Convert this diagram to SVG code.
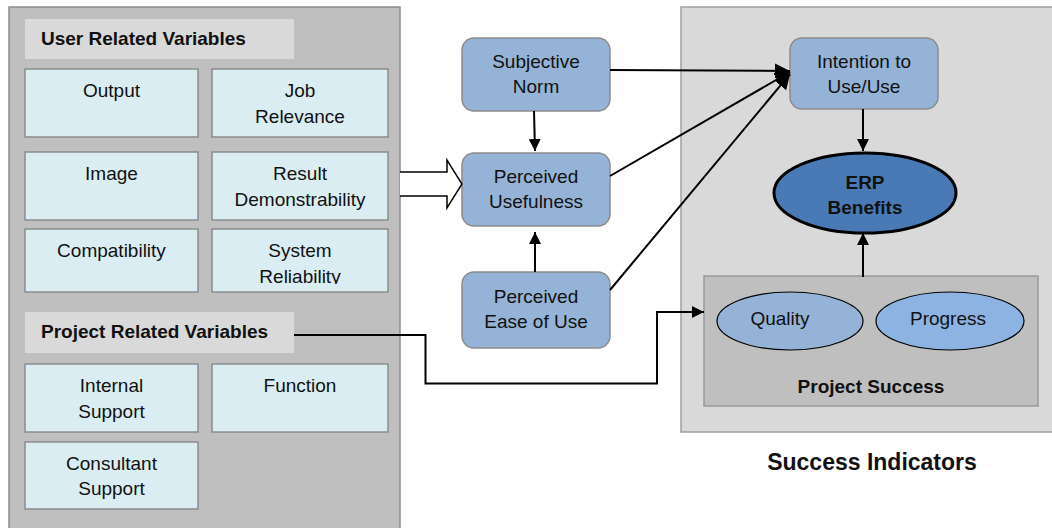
<svg xmlns="http://www.w3.org/2000/svg" width="1052" height="528" viewBox="0 0 1052 528">
<style>
text{font-family:"Liberation Sans",Arial,sans-serif;font-size:19px;fill:#111;text-anchor:middle}
.b{font-weight:bold}
.hdr{text-anchor:start}
.panel{fill:#bfbfbf;stroke:#8c8c8c;stroke-width:1.5}
.panel2{fill:#d9d9d9;stroke:#a0a0a0;stroke-width:1.5}
.head{fill:#d9d9d9}
.var{fill:#daedf3;stroke:#8c8c8c;stroke-width:1.5}
.tam{fill:#95b3d7;stroke:#8c8c8c;stroke-width:1.5}
.ell{stroke:#000;stroke-width:1.2}
.ln{fill:none;stroke:#000;stroke-width:2}
</style>
<defs>
<marker id="ah" markerWidth="12" markerHeight="12" viewBox="0 0 12 12" refX="12" refY="6" orient="auto" markerUnits="userSpaceOnUse">
<path d="M0,0 L12,6 L0,12 Z" fill="#000"/>
</marker>
<marker id="ah2" markerWidth="15" markerHeight="15" viewBox="0 0 15 15" refX="15" refY="7.5" orient="auto" markerUnits="userSpaceOnUse">
<path d="M0,0 L15,7.5 L0,15 Z" fill="#000"/>
</marker>
<clipPath id="clipRel"><rect x="212" y="229" width="176" height="55"/></clipPath>
</defs>

<g id="user-panel">
<rect class="panel" x="9" y="7" width="391" height="530"/>
</g>
<g id="success-panel">
<rect class="panel2" x="681" y="7" width="380" height="425"/>
<text class="b" x="872" y="470" style="font-size:23px">Success Indicators</text>
</g>

<g id="user-header">
<rect class="head" x="25" y="19" width="269" height="40"/>
<text class="b hdr" x="41" y="45">User Related Variables</text>
</g>
<g id="output"><rect class="var" x="25" y="69" width="173" height="68"/><text x="111.5" y="97">Output</text></g>
<g id="job-relevance"><rect class="var" x="212" y="69" width="176" height="68"/><text x="300" y="97">Job</text><text x="300" y="123">Relevance</text></g>
<g id="image"><rect class="var" x="25" y="152" width="173" height="68"/><text x="111.5" y="180">Image</text></g>
<g id="result-demonstrability"><rect class="var" x="212" y="152" width="176" height="68"/><text x="300" y="180">Result</text><text x="300" y="206">Demonstrability</text></g>
<g id="compatibility"><rect class="var" x="25" y="229" width="173" height="63"/><text x="111.5" y="257">Compatibility</text></g>
<g id="system-reliability"><rect class="var" x="212" y="229" width="176" height="63"/><text x="300" y="257">System</text><text x="300" y="283" clip-path="url(#clipRel)">Reliability</text></g>

<g id="project-header">
<rect class="head" x="25" y="312" width="269" height="41"/>
<text class="b hdr" x="41" y="338">Project Related Variables</text>
</g>
<g id="internal-support"><rect class="var" x="25" y="364" width="173" height="68"/><text x="111.5" y="392">Internal</text><text x="111.5" y="418">Support</text></g>
<g id="function"><rect class="var" x="212" y="364" width="176" height="68"/><text x="300" y="392">Function</text></g>
<g id="consultant-support"><rect class="var" x="25" y="442" width="173" height="67"/><text x="111.5" y="470">Consultant</text><text x="111.5" y="495">Support</text></g>

<g id="subjective-norm"><rect class="tam" x="462" y="38" width="148" height="73" rx="12"/><text x="536" y="68">Subjective</text><text x="536" y="93">Norm</text></g>
<g id="perceived-usefulness"><rect class="tam" x="462" y="153" width="148" height="73" rx="12"/><text x="536" y="183">Perceived</text><text x="536" y="208">Usefulness</text></g>
<g id="perceived-ease"><rect class="tam" x="462" y="272" width="148" height="76" rx="12"/><text x="536" y="303">Perceived</text><text x="536" y="328">Ease of Use</text></g>

<g id="intention"><rect class="tam" x="790" y="38" width="148" height="71" rx="12"/><text x="864" y="68">Intention to</text><text x="864" y="93">Use/Use</text></g>
<g id="erp-benefits"><ellipse cx="865" cy="193" rx="91" ry="40" fill="#4a7ab5" stroke="#000" stroke-width="3"/><text class="b" x="865" y="189">ERP</text><text class="b" x="865" y="214">Benefits</text></g>
<g id="project-success">
<rect x="704" y="276" width="334" height="130" fill="#bfbfbf" stroke="#999" stroke-width="1.5"/>
<text class="b" x="871" y="393">Project Success</text>
</g>
<g id="quality"><ellipse class="ell" cx="790" cy="321" rx="73" ry="29" fill="#95b3d7"/><text x="780" y="325">Quality</text></g>
<g id="progress"><ellipse class="ell" cx="950" cy="321" rx="74" ry="29" fill="#8db3e2"/><text x="948" y="325">Progress</text></g>

<g id="connectors">
<path d="M400,172 H447 V160 L462,184 L447,208 V196 H400" fill="#fff" stroke="#000" stroke-width="1.5"/>
<line class="ln" x1="534" y1="111" x2="535" y2="151" marker-end="url(#ah)"/>
<line class="ln" x1="535" y1="272" x2="535" y2="232" marker-end="url(#ah)"/>
<line class="ln" x1="610" y1="70" x2="790" y2="71" marker-end="url(#ah2)"/>
<line class="ln" x1="610" y1="176" x2="790" y2="72" marker-end="url(#ah2)"/>
<line class="ln" x1="610" y1="290" x2="790" y2="74" marker-end="url(#ah2)"/>
<line class="ln" x1="863" y1="109" x2="863" y2="151" marker-end="url(#ah)"/>
<line class="ln" x1="863" y1="277" x2="863" y2="233" marker-end="url(#ah)"/>
<path class="ln" d="M294,335 H425.5 V383.5 H657 V312 H704" marker-end="url(#ah)"/>
</g>
</svg>
